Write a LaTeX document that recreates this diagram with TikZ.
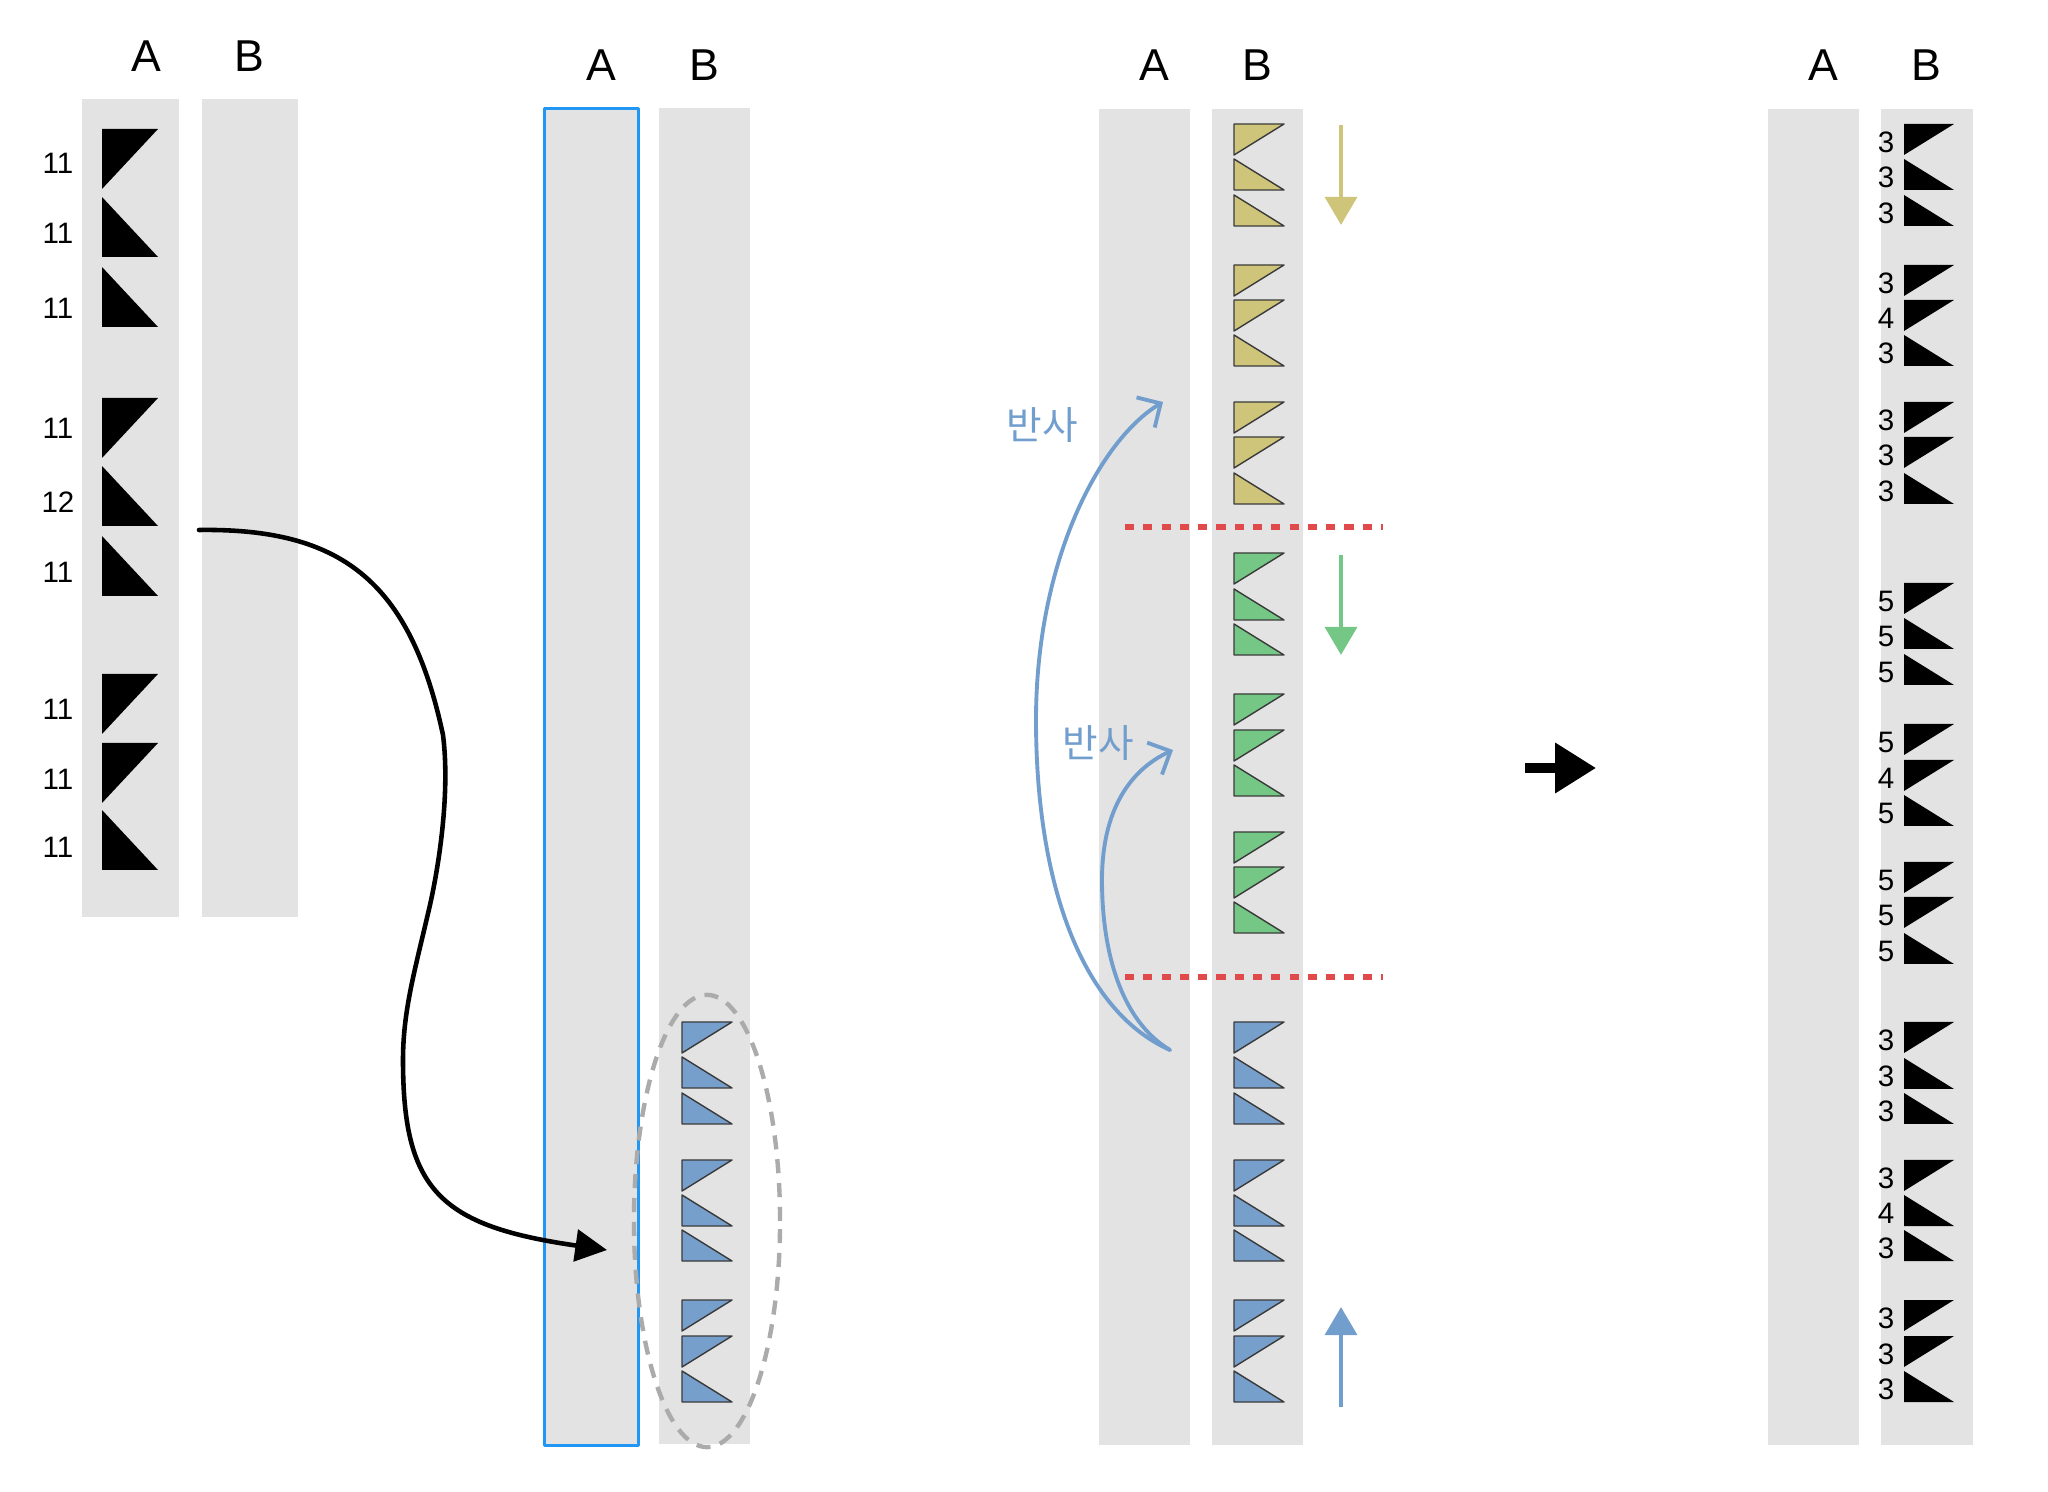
\documentclass[tikz,border=0pt]{standalone}
\usepackage{fontspec}
\setmainfont{Liberation Sans}
\newfontfamily\kofont{Noto Sans CJK KR}
\usetikzlibrary{positioning,arrows.meta}
\definecolor{colgray}{HTML}{E3E3E3}
\definecolor{boxblue}{HTML}{2196F3}
\definecolor{triblue}{HTML}{779FCB}
\definecolor{triyel}{HTML}{CFC57A}
\definecolor{trigreen}{HTML}{74C784}
\definecolor{triedge}{HTML}{3A3A3A}
\definecolor{cutred}{HTML}{E04A4A}
\definecolor{reflblue}{HTML}{729ECE}
\definecolor{ringgray}{HTML}{ABABAB}
\begin{document}
\begin{tikzpicture}[x=0.01cm, y=-0.01cm, line join=round, line cap=round]
			\tikzset{
				col/.style={fill=colgray, inner sep=0pt, anchor=north west},
				hdr/.style={inner sep=0pt, font=\fontsize{12.7}{15}\selectfont},
				num/.style={inner sep=0pt, font=\fontsize{8.4}{10}\selectfont},
				refltxt/.style={inner sep=0pt, text=reflblue, font=\kofont\fontsize{11}{13}\selectfont},
				edged/.style={draw=triedge, line width=0.4pt},
				flow/.style={line width=1.4pt, line cap=butt},
				link/.style={line width=1.3pt, -{Triangle[length=9pt,width=9pt]}},
				bounce/.style={draw=reflblue, line width=1.1pt, -{Straight Barb[length=5pt,width=10pt]}},
				cut/.style={draw=cutred, line width=1.75pt, line cap=butt, dash pattern=on 2.6pt off 2.6pt},
				ring/.style={draw=ringgray, line width=1.25pt, line cap=butt, dash pattern=on 4pt off 2.8pt},
				pics/flag/.style={code={\path[pic actions] (0,0) -- (\trw,#1*\trh) -- (0,\trh) -- cycle;}}
			}
			\useasboundingbox (0,0) rectangle (2048,1492);
			\node[col, minimum width=0.97cm, minimum height=8.18cm] (p1a) at (81,98) {};
			\node[col, minimum width=0.96cm, minimum height=8.18cm] (p1b) at (201,98) {};
			\node[col, minimum width=0.94cm, minimum height=13.36cm, draw=boxblue, line width=0.85pt] (p2a) at (543,107) {};
			\node[col, minimum width=0.91cm, minimum height=13.36cm] (p2b) at (658,107) {};
			\node[col, minimum width=0.91cm, minimum height=13.36cm] (p3a) at (1098,108) {};
			\node[col, minimum width=0.91cm, minimum height=13.36cm] (p3b) at (1211,108) {};
			\node[col, minimum width=0.91cm, minimum height=13.36cm] (p4a) at (1767,108) {};
			\node[col, minimum width=0.92cm, minimum height=13.36cm] (p4b) at (1880,108) {};
			\node[hdr, above=2.6mm of p1a, xshift=0.16cm] (p1A) {A};
			\node[hdr, above=2.6mm of p1b] (p1B) {B};
			\node[hdr, above=2.6mm of p2a, xshift=0.1cm] (p2A) {A};
			\node[hdr, above=2.6mm of p2b] (p2B) {B};
			\node[hdr, above=2.7mm of p3a, xshift=0.1cm] (p3A) {A};
			\node[hdr, above=2.7mm of p3b] (p3B) {B};
			\node[hdr, above=2.7mm of p4a, xshift=0.1cm] (p4A) {A};
			\node[hdr, above=2.7mm of p4b] (p4B) {B};
			\draw[ring] (707,1221) ellipse [x radius=0.73cm, y radius=2.26cm];
			\pgfmathsetmacro\trw{56}
			\pgfmathsetmacro\trh{60}
			\foreach \y/\f/\n/\ly in {129/0/11/163, 197/1/11/233, 267/1/11/308, 398/0/11/428, 466/1/12/502, 536/1/11/572, 674/0/11/709, 743/0/11/779, 810/1/11/847}{
				\path (102,\y) pic[fill=black]{flag=\f};
				\node[num] at (58,\ly) {\n};
			}
			\pgfmathsetmacro\trw{50}
			\pgfmathsetmacro\trh{31}
			\foreach \y/\f in {1022/0, 1057/1, 1093/1, 1160/0, 1195/1, 1230/1, 1300/0, 1336/0, 1371/1}
				\path (682,\y) pic[fill=triblue, edged]{flag=\f};
			\foreach \y/\f in {124/0, 159/1, 195/1, 265/0, 300/0, 335/1, 402/0, 437/0, 473/1}
				\path (1234,\y) pic[fill=triyel, edged]{flag=\f};
			\foreach \y/\f in {553/0, 589/1, 624/1, 694/0, 730/0, 765/1, 832/0, 867/0, 902/1}
				\path (1234,\y) pic[fill=trigreen, edged]{flag=\f};
			\foreach \y/\f in {1022/0, 1057/1, 1093/1, 1160/0, 1195/1, 1230/1, 1300/0, 1336/0, 1371/1}
				\path (1234,\y) pic[fill=triblue, edged]{flag=\f};
			\foreach \y/\f/\n in {124/0/3, 159/1/3, 195/1/3, 265/0/3, 300/0/4, 335/1/3, 402/0/3, 437/0/3, 473/1/3, 583/0/5, 618/1/5, 654/1/5, 724/0/5, 760/0/4, 795/1/5, 862/0/5, 897/0/5, 933/1/5, 1022/0/3, 1058/1/3, 1093/1/3, 1160/0/3, 1195/1/4, 1230/1/3, 1300/0/3, 1336/0/3, 1371/1/3}{
				\path (1904,\y) pic[fill=black]{flag=\f};
				\node[num] at (1886,\y+18) {\n};
			}
			\coordinate (src) at (199,530);
			\coordinate (dst) at (607,1250);
			\coordinate (bend1) at (443,735);
			\coordinate (bend2) at (430,905);
			\coordinate (bend3) at (403,1060);
			\draw[link] (src) .. controls (340,528) and (410,580) .. (bend1) .. controls (450,790) and (440,860) .. (bend2) .. controls (415,970) and (403,1010) .. (bend3) .. controls (403,1190) and (440,1226) .. (dst);
			\draw[cut] (1125,527) -- (1383,527);
			\draw[cut] (1125,977) -- (1383,977);
			\coordinate (refl) at (1170,1050);
			\coordinate (turn1) at (1036,720);
			\coordinate (turn2) at (1102,880);
			\coordinate (refl1) at (1163,402);
			\coordinate (refl2) at (1173,750);
			\draw[bounce] (refl) .. controls (1080,1010) and (1036,880) .. (turn1) .. controls (1036,560) and (1100,440) .. (refl1);
			\draw[bounce] (refl) .. controls (1120,1020) and (1102,950) .. (turn2) .. controls (1102,810) and (1130,770) .. (refl2);
			\node[refltxt] (r1) at (1042,425) {반사};
			\node[refltxt] (r2) at (1098,743) {반사};
			\coordinate (yd1) at (1341,125);
			\coordinate (yd2) at (1341,225);
			\coordinate (gd1) at (1341,555);
			\coordinate (gd2) at (1341,655);
			\coordinate (bu1) at (1341,1407);
			\coordinate (bu2) at (1341,1307);
			\draw[flow, draw=triyel, -{Triangle[length=8pt,width=9pt,fill=triyel]}] (yd1) -- (yd2);
			\draw[flow, draw=trigreen, -{Triangle[length=8pt,width=9pt,fill=trigreen]}] (gd1) -- (gd2);
			\draw[flow, draw=reflblue, -{Triangle[length=8pt,width=9pt,fill=reflblue]}] (bu1) -- (bu2);
			\coordinate (go1) at (1525,768);
			\coordinate (go2) at (1596,768);
			\draw[line width=2.6pt, line cap=butt, -{Triangle[length=11.6pt,width=13.7pt]}] (go1) -- (go2);
		\end{tikzpicture}
\end{document}
